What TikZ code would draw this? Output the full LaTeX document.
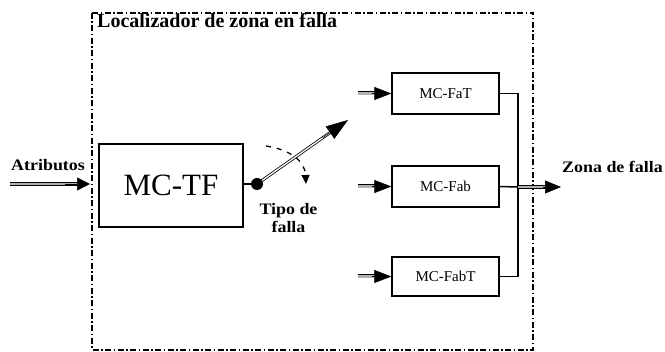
\documentclass[tikz,border=0pt]{standalone}
\usepackage{fontspec}
\setmainfont{Liberation Serif}
\newfontfamily\lblfont[FakeStretch=1.12]{Liberation Serif}
\usetikzlibrary{arrows.meta,calc}
\begin{document}
\begin{tikzpicture}[x=1pt,y=-1pt,
  blk/.style={draw,line width=1.4pt,minimum width=107pt,minimum height=41pt,inner sep=0pt,font=\fontsize{15}{17}\selectfont},
  dblshaft/.style={double=gray!60,double distance=2.2pt,line width=0.9pt},
  lbl/.style={font=\lblfont\bfseries\fontsize{16}{18}\selectfont,inner sep=0pt},
  wire/.style={line width=1.5pt}
]
\useasboundingbox (0,0) rectangle (665,352);
\draw[line width=1.6pt,dash pattern=on 6pt off 2.5pt on 1.5pt off 2.5pt] (92,13) rectangle (533,350);
\node[anchor=base west,inner sep=0pt,font=\bfseries\fontsize{20}{22}\selectfont] (title) at (97,28) {Localizador de zona en falla};
\node[draw,line width=1.5pt,minimum width=144pt,minimum height=83pt,inner sep=0pt,font=\fontsize{31}{33}\selectfont] (mctf) at (171,185.5) {MC-TF};
\node[lbl,anchor=base west] (atr) at (11,171) {Atributos};
\coordinate (atrs) at (10,184);
\coordinate (atre) at (90,184);
\draw[dblshaft,shorten >=11pt] (atrs) -- (atre);
\draw[line width=0.5pt,-{Triangle[length=13pt,width=13pt]},shorten <=55pt] (atrs) -- (atre);
% switch
\coordinate (pivot) at (257,184);
\coordinate (armtip) at (348,120);
\draw[wire] (mctf.east |- pivot) -- (pivot);
\draw[double=white,double distance=1.3pt,line width=0.8pt,shorten >=18pt] (pivot) -- (armtip);
\draw[line width=0.5pt,-{Triangle[length=22pt,width=15pt]},shorten <=80pt] (pivot) -- (armtip);
\node[circle,fill,inner sep=0pt,minimum size=12pt] (dot) at (pivot) {};
\coordinate (sw1) at (266,146);
\coordinate (sw2) at (306,184);
\draw[line width=1.3pt,dash pattern=on 5pt off 6pt,-{Triangle[length=9pt,width=8pt]}] (sw1) .. controls (292,150) and (305,162) .. (sw2);
\node[lbl,align=center] (tipo) at (288.5,218) {Tipo de\\falla};
% classifiers
\node[blk] (fat) at (445.5,93.5) {MC-FaT};
\node[blk] (fab) at (445.5,186.5) {MC-Fab};
\node[blk,minimum height=39pt] (fabt) at (445.5,276.5) {MC-FabT};
\coordinate (i1) at ($(fat.west)+(-33,0)$);
\coordinate (i2) at ($(fab.west)+(-33,0)$);
\coordinate (i3) at ($(fabt.west)+(-33,0)$);
\foreach \s/\t in {i1/fat,i2/fab,i3/fabt}{
  \draw[dblshaft,shorten >=14pt] (\s) -- (\t.west);
  \draw[line width=0.5pt,-{Triangle[length=17pt,width=13pt]},shorten <=14pt] (\s) -- (\t.west);
}
\coordinate (junc) at (518,187);
\coordinate (outp) at (561,187);
\draw[wire] (fat.east) -| (junc) |- (fabt.east);
\draw[wire] (fab.east) -- (junc);
\draw[dblshaft,shorten >=14pt] (junc) -- (outp);
\draw[line width=0.5pt,-{Triangle[length=16pt,width=13pt]},shorten <=25pt] (junc) -- (outp);
\node[lbl,anchor=base west] (zona) at (562,173) {Zona de falla};
\end{tikzpicture}
\end{document}
